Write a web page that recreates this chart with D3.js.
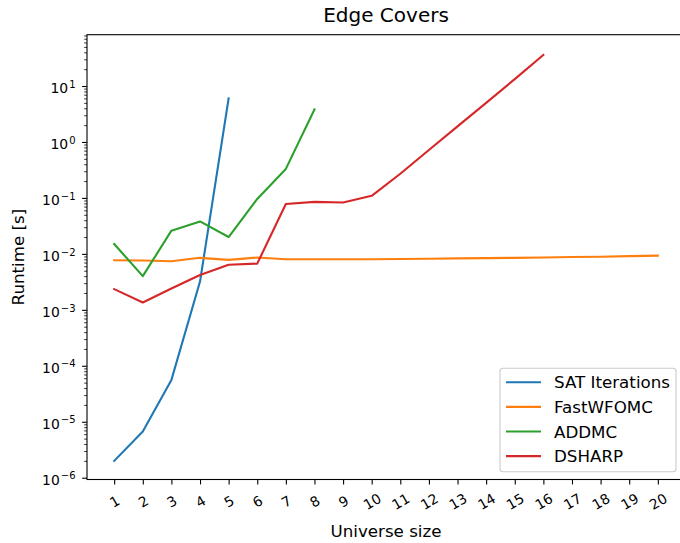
<!DOCTYPE html>
<html>
<head>
<meta charset="utf-8">
<script src="https://cdn.jsdelivr.net/npm/d3@7"></script>
<style>
  body { margin: 0; background: #fff; }
  svg { font-family: "DejaVu Sans", sans-serif; }
</style>
</head>
<body>
<div id="chart"></div>
<script>
// universe sizes on the x axis
const sizes = d3.range(1, 21);

const satIterations = [2.0e-6, 6.7e-6, 5.6e-5, 3.2e-3, 6.0];
const fastWFOMC = [7.7e-3, 7.6e-3, 7.4e-3, 8.5e-3, 7.8e-3, 8.6e-3, 8.0e-3, 8.0e-3, 8.0e-3, 8.0e-3,
                   8.1e-3, 8.2e-3, 8.3e-3, 8.4e-3, 8.5e-3, 8.6e-3, 8.8e-3, 8.9e-3, 9.1e-3, 9.3e-3];
const addmc = [1.5e-2, 4.0e-3, 2.6e-2, 3.8e-2, 2.0e-2, 9.6e-2, 0.33, 3.8];
const dsharp = [2.35e-3, 1.35e-3, 2.4e-3, 4.2e-3, 6.4e-3, 6.7e-3, 7.8e-2, 8.5e-2, 8.3e-2, 0.109,
                0.27, 0.72, 1.9, 5.0, 13.3, 36];

const seriesNames = ["SAT Iterations", "FastWFOMC", "ADDMC", "DSHARP"];
const seriesValues = [satIterations, fastWFOMC, addmc, dsharp];
const colors = ["#1f77b4", "#ff7f0e", "#2ca02c", "#d62728"];

const decades = [1e-6, 1e-5, 1e-4, 1e-3, 1e-2, 1e-1, 1e0, 1e1];

const width = 680, height = 543;
// plot box (right spine sits just outside the picture, as in the original)
const box = { left: 87, right: 685, top: 34.7, bottom: 479.5 };

const svg = d3.select("#chart").append("svg")
    .attr("width", width)
    .attr("height", height);

const x = d3.scaleLinear()
    .domain([0.05, 20.95])
    .range([box.left, box.right]);

const y = d3.scaleLog()
    .domain([Math.pow(10, -6.032), Math.pow(10, 1.917)])
    .range([box.bottom, box.top]);

// lines
const line = d3.line()
    .x(function(d) { return x(d[0]); })
    .y(function(d) { return y(d[1]); });

const plot = svg.append("g");
seriesValues.forEach(function(vals, i) {
  plot.append("path")
      .datum(vals.map(function(v, j) { return [sizes[j], v]; }))
      .attr("fill", "none")
      .attr("stroke", colors[i])
      .attr("stroke-width", 2.1)
      .attr("stroke-linejoin", "round")
      .attr("stroke-linecap", "square")
      .attr("d", line);
});

// minor ticks for the log axis
var minors = [];
for (var e = -7; e <= 1; e++) {
  for (var k = 2; k <= 9; k++) {
    var v = k * Math.pow(10, e);
    if (v >= y.domain()[0] && v <= y.domain()[1]) minors.push(v);
  }
}

const yMinor = svg.append("g")
    .attr("transform", "translate(" + box.left + ",0)")
    .call(d3.axisLeft(y).tickValues(minors).tickSize(2.8).tickFormat("").tickSizeOuter(0));
yMinor.select(".domain").remove();
yMinor.selectAll("line").attr("stroke-width", 0.8);

const yAxis = svg.append("g")
    .attr("transform", "translate(" + box.left + ",0)")
    .call(d3.axisLeft(y).tickValues(decades).tickSize(4.9).tickPadding(4.9).tickFormat("").tickSizeOuter(0));
yAxis.select(".domain").remove();
yAxis.selectAll("line").attr("stroke-width", 1.1);

// 10^k labels with a superscript
yAxis.selectAll(".tick text")
    .attr("x", -11.5)
    .attr("dy", null)
    .attr("y", 6.7)
    .attr("fill", "#000")
    .attr("font-size", 13.9)
    .attr("font-family", "DejaVu Sans")
    .each(function(d) {
      const t = d3.select(this);
      const ex = Math.round(Math.log10(d));
      t.append("tspan").text("10");
      t.append("tspan")
          .attr("dx", 1)
          .attr("dy", -5.5)
          .attr("font-size", 10)
          .text(ex < 0 ? "\u2212" + (-ex) : String(ex));
    });

const xAxis = svg.append("g")
    .attr("transform", "translate(0," + box.bottom + ")")
    .call(d3.axisBottom(x).tickValues(sizes).tickSize(4.9).tickSizeOuter(0));
xAxis.select(".domain").remove();
xAxis.selectAll("line").attr("stroke-width", 1.1);
xAxis.selectAll(".tick text")
    .attr("y", 0)
    .attr("dy", "0.35em")
    .attr("text-anchor", "middle")
    .attr("transform", "translate(0,22) rotate(-30)")
    .attr("fill", "#000")
    .attr("font-size", 13.9)
    .attr("font-family", "DejaVu Sans");

// frame
svg.append("rect")
    .attr("x", box.left)
    .attr("y", box.top)
    .attr("width", box.right - box.left)
    .attr("height", box.bottom - box.top)
    .attr("fill", "none")
    .attr("stroke", "#000")
    .attr("stroke-width", 1.1);

// title and axis labels
svg.append("text")
    .attr("x", (box.left + box.right) / 2)
    .attr("y", 21.5)
    .attr("text-anchor", "middle")
    .attr("font-size", 20)
    .text("Edge Covers");

svg.append("text")
    .attr("x", (box.left + box.right) / 2)
    .attr("y", 536.5)
    .attr("text-anchor", "middle")
    .attr("font-size", 16.7)
    .text("Universe size");

svg.append("text")
    .attr("transform", "translate(23.5," + ((box.top + box.bottom) / 2) + ") rotate(-90)")
    .attr("text-anchor", "middle")
    .attr("font-size", 16.7)
    .text("Runtime [s]");

// legend, lower right
const legend = svg.append("g");
legend.append("rect")
    .attr("x", 500)
    .attr("y", 368.3)
    .attr("width", 176)
    .attr("height", 103.4)
    .attr("rx", 3)
    .attr("fill", "#fff")
    .attr("fill-opacity", 0.8)
    .attr("stroke", "#ccc")
    .attr("stroke-width", 1.1);

seriesNames.forEach(function(name, i) {
  const cy = 382.3 + i * 24.6;
  legend.append("line")
      .attr("x1", 506).attr("x2", 541)
      .attr("y1", cy).attr("y2", cy)
      .attr("stroke", colors[i])
      .attr("stroke-width", 2.1);
  legend.append("text")
      .attr("x", 554)
      .attr("y", cy + 6)
      .attr("font-size", 16.7)
      .text(name);
});
</script>
</body>
</html>
